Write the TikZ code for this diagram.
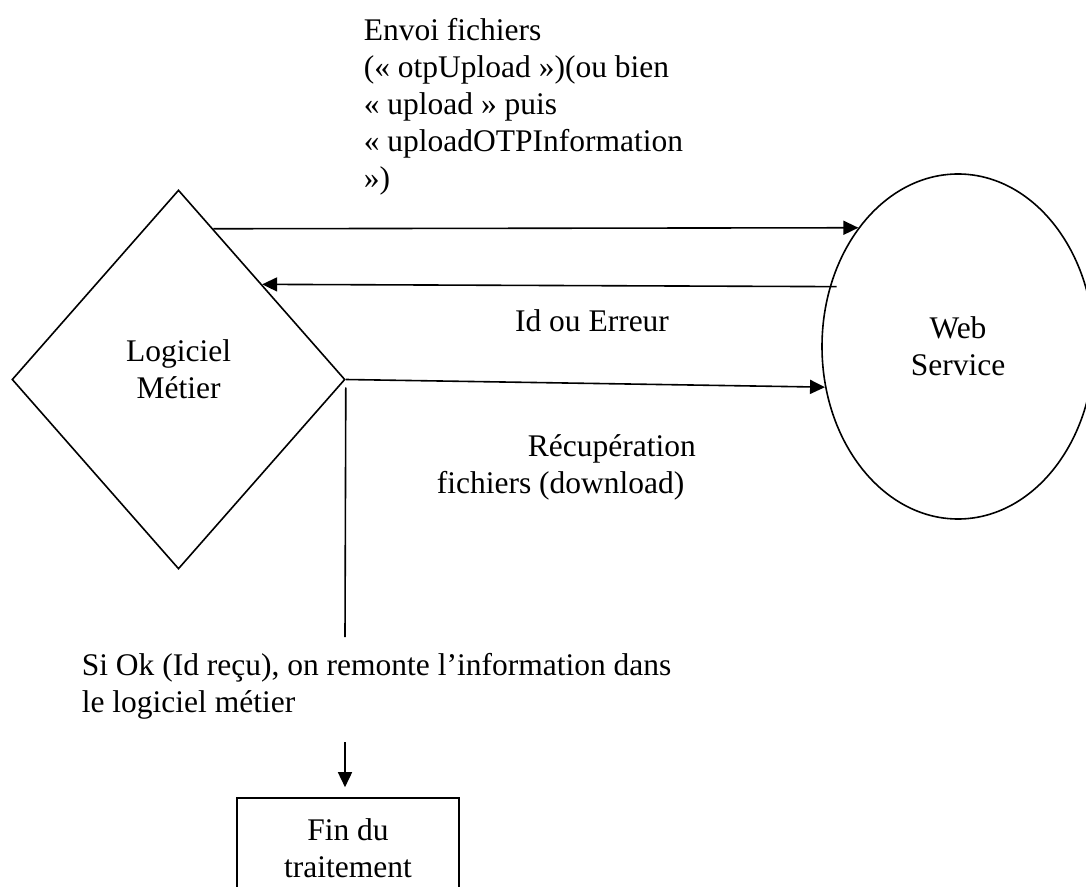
\documentclass[tikz,border=0pt]{standalone}
\usepackage{fontspec}
\setmainfont{Liberation Serif}
\usetikzlibrary{shapes.geometric,arrows.meta}
\tikzset{
  txt/.style={font=\fontsize{15.75}{18.5}\selectfont,inner sep=0pt},
  decision/.style={draw,diamond,minimum width=166.5pt,minimum height=189.5pt,inner sep=0pt},
  service/.style={draw,ellipse,minimum width=136pt,minimum height=172.5pt,inner sep=0pt,align=center,txt},
  finbox/.style={draw,rectangle,minimum width=111pt,minimum height=50pt,align=center,txt}
}
\begin{document}
\begin{tikzpicture}[x=0.5pt,y=-0.5pt,line width=0.8pt,>={Triangle[length=7.5pt,width=7pt]}]
  \path[use as bounding box] (0,0) rectangle (1086,887);
  \clip (0,0) rectangle (1086,887);
  % shapes
  \node[decision,label={[txt,align=center,yshift=5pt]center:Logiciel\\Métier}] (logiciel) at (178.5,379.5) {};
  \node[service] (web) at (958,346.5) {Web\\Service};
  \node[finbox] (fin) at (348,848) {Fin du\\traitement};
  % labels
  \node[txt,align=left,anchor=north west] (envoi) at (363,18)
    {Envoi fichiers\\(« otpUpload »)(ou bien\\« upload » puis\\« uploadOTPInformation\\»)};
  \node[txt,anchor=base] (iderr) at (592,332) {Id ou Erreur};
  \node[txt,align=left,anchor=north west] (recup) at (436,434)
    {\hspace*{45.5pt}Récupération\\fichiers (download)};
  \node[txt,align=left,anchor=north west] (siok) at (81,653)
    {Si Ok (Id reçu), on remonte l’information dans\\le logiciel métier};
  % connectors
  \draw[->] (logiciel.77) -- (web.130);
  \draw[->] ([xshift=3.5pt]web.155) -- (logiciel.north east);
  \draw[->] (logiciel.east) -- (web.197);
  \coordinate (okstop) at (345,637);
  \coordinate (downtop) at (345,742);
  \draw ([yshift=-4pt]logiciel.east) -- (okstop);
  \draw[->,shorten >=5pt] (downtop) -- (downtop |- fin.north);
\end{tikzpicture}
\end{document}
